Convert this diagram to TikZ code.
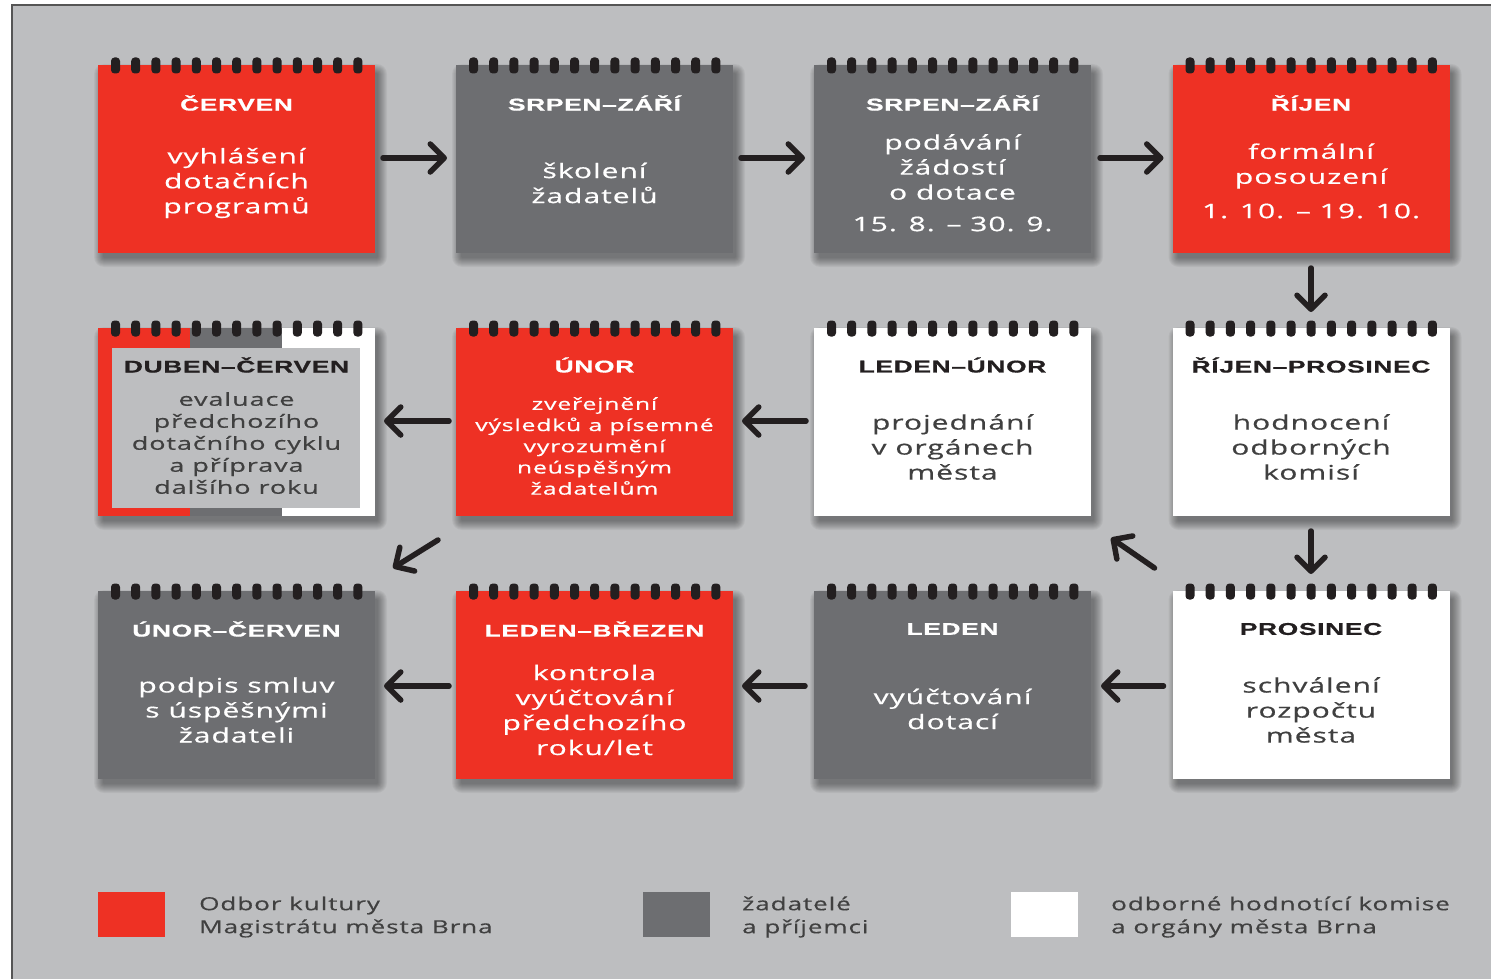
\documentclass[tikz,border=0pt]{standalone}
\usepackage{fontspec}
\setmainfont{Open Sans}
\newfontfamily\bodyf[FakeStretch=1.5,LetterSpace=5,FakeBold=0.6]{Open Sans}
\newfontfamily\legf[FakeStretch=1.45,LetterSpace=5,FakeBold=0.4]{Open Sans}
\newfontfamily\titlef[FakeStretch=1.55,LetterSpace=4,FakeBold=0.8]{Liberation Sans}
\usetikzlibrary{arrows.meta,calc}
\definecolor{cred}{RGB}{238,49,36}
\definecolor{cgrey}{RGB}{109,110,113}
\definecolor{bgc}{RGB}{189,190,192}
\definecolor{ink}{RGB}{35,31,32}
\definecolor{wtext}{RGB}{64,64,64}
\definecolor{framec}{RGB}{85,85,85}
\newcommand\softshadow[1]{%
  \foreach \k in {1,...,10}{%
    \fill[black,opacity=0.045,rounded corners=\k pt]
      ($(#1.north west)+(6-\k,9-\k)$) rectangle ($(#1.south east)+(2+\k,4+\k)$);}}
\newcommand\rings[1]{%
  \foreach \i in {0,...,12}{%
    \fill[ink,rounded corners=3.5pt] ($(#1.north west)+(13+20.2*\i,-7.5)$) rectangle ++(9,16);}}
\tikzset{
  card/.style={minimum width=277pt, minimum height=188pt, inner sep=0pt, outer sep=0pt, draw=none},
  ttl/.style={font=\titlef\bfseries\fontsize{17}{20}\selectfont, inner sep=0pt},
  bodyt/.style={font=\bodyf\fontsize{20}{25}\selectfont, align=center, inner sep=0pt},
  bodys/.style={font=\bodyf\fontsize{18}{22}\selectfont, align=center, inner sep=0pt},
  bodyxs/.style={font=\bodyf\fontsize{16.5}{21.2}\selectfont, align=center, inner sep=0pt},
  legt/.style={font=\legf\fontsize{18}{23}\selectfont, align=left, inner sep=0pt, anchor=west, text=wtext},
  arr/.style={draw=ink, line width=5.5pt, line cap=round, -{Straight Barb[length=14pt,width=28pt,round]}},
  legbox/.style={minimum width=67pt, minimum height=45pt, inner sep=0pt, draw=none}
}
\begin{document}
\begin{tikzpicture}[x=1pt,y=-1pt]
\useasboundingbox (0,0) rectangle (1491,979);
\fill[white] (0,0) rectangle (1491,979);
\fill[bgc] (12,5) rectangle (1491,979);
\draw[framec,line width=1.6pt] (12,979) -- (12,5) -- (1491,5);

% card positions
\path
  (236.5,159) coordinate (p11) (594.5,159) coordinate (p12) (952.5,159) coordinate (p13) (1311,159) coordinate (p14)
  (236.5,422) coordinate (p21) (594.5,422) coordinate (p22) (952.5,422) coordinate (p23) (1311,422) coordinate (p24)
  (236.5,685) coordinate (p31) (594.5,685) coordinate (p32) (952.5,685) coordinate (p33) (1311,685) coordinate (p34);

% shadows
\foreach \n in {11,12,13,14,21,22,23,24,31,32,33,34}{\node[card] (s\n) at (p\n) {};}
\foreach \n in {11,12,13,14,21,22,23,24,31,32,33,34}{\softshadow{s\n}}

% row 1
\node[card,fill=cred] (c11) at (p11) {};
\node[card,fill=cgrey] (c12) at (p12) {};
\node[card,fill=cgrey] (c13) at (p13) {};
\node[card,fill=cred] (c14) at (p14) {};
% row 2
\node[card,fill=white] (c21) at (p21) {};
\fill[cred] (c21.north west) rectangle ($(c21.south west)+(92,0)$);
\fill[cgrey] ($(c21.north west)+(92,0)$) rectangle ($(c21.south west)+(184,0)$);
\fill[bgc] ($(c21.north west)+(14,20)$) rectangle ($(c21.south east)+(-15,-8)$);
\node[card,fill=cred] (c22) at (p22) {};
\node[card,fill=white] (c23) at (p23) {};
\node[card,fill=white] (c24) at (p24) {};
% row 3
\node[card,fill=cgrey] (c31) at (p31) {};
\node[card,fill=cred] (c32) at (p32) {};
\node[card,fill=cgrey] (c33) at (p33) {};
\node[card,fill=white] (c34) at (p34) {};

\foreach \n in {11,12,13,14,21,22,23,24,31,32,33,34}{\rings{c\n}}

% titles
\node[ttl,text=white] (t11) at ($(c11.north)+(0,38)$) {ČERVEN};
\node[ttl,text=white] (t12) at ($(c12.north)+(0,38)$) {SRPEN–ZÁŘÍ};
\node[ttl,text=white] (t13) at ($(c13.north)+(0,38)$) {SRPEN–ZÁŘÍ};
\node[ttl,text=white] (t14) at ($(c14.north)+(0,38)$) {ŘÍJEN};
\node[ttl,text=ink] (t21) at ($(c21.north)+(0,37)$) {DUBEN–ČERVEN};
\node[ttl,text=white] (t22) at ($(c22.north)+(0,37)$) {ÚNOR};
\node[ttl,text=ink] (t23) at ($(c23.north)+(0,37)$) {LEDEN–ÚNOR};
\node[ttl,text=ink] (t24) at ($(c24.north)+(0,37)$) {ŘÍJEN–PROSINEC};
\node[ttl,text=white] (t31) at ($(c31.north)+(0,38)$) {ÚNOR–ČERVEN};
\node[ttl,text=white] (t32) at ($(c32.north)+(0,38)$) {LEDEN–BŘEZEN};
\node[ttl,text=white] (t33) at ($(c33.north)+(0,38)$) {LEDEN};
\node[ttl,text=ink] (t34) at ($(c34.north)+(0,38)$) {PROSINEC};

% bodies
\node[bodyt,text=white] (b11) at ($(c11.north)+(0,118)$) {vyhlášení\\dotačních\\programů};
\node[bodyt,text=white] (b12) at ($(c12.north)+(0,118)$) {školení\\žadatelů};
\node[bodyt,text=white] (b13) at ($(c13.north)+(0,102)$) {podávání\\žádostí\\o dotace};
\node[bodyt,text=white] (d13) at ($(c13.north)+(0,159)$) {15. 8. – 30. 9.};
\node[bodyt,text=white] (b14) at ($(c14.north)+(0,101)$) {formální\\posouzení};
\node[bodyt,text=white] (d14) at ($(c14.north)+(0,146)$) {1. 10. – 19. 10.};
\node[bodys,text=wtext] (b21) at ($(c21.north)+(0,115)$) {evaluace\\předchozího\\dotačního cyklu\\a příprava\\dalšího roku};
\node[bodyxs,text=white] (b22) at ($(c22.north)+(0,118)$) {zveřejnění\\výsledků a písemné\\vyrozumění\\neúspěšným\\žadatelům};
\node[bodyt,text=wtext] (b23) at ($(c23.north)+(0,119)$) {projednání\\v orgánech\\města};
\node[bodyt,text=wtext] (b24) at ($(c24.north)+(0,119)$) {hodnocení\\odborných\\komisí};
\node[bodyt,text=white] (b31) at ($(c31.north)+(0,119)$) {podpis smluv\\s úspěšnými\\žadateli};
\node[bodyt,text=white] (b32) at ($(c32.north)+(0,119)$) {kontrola\\vyúčtování\\předchozího\\roku/let};
\node[bodyt,text=white] (b33) at ($(c33.north)+(0,118)$) {vyúčtování\\dotací};
\node[bodyt,text=wtext] (b34) at ($(c34.north)+(0,119)$) {schválení\\rozpočtu\\města};

% arrows
\draw[arr] ($(c11.east)+(8,-1)$) -- ($(c12.west)+(-9,-1)$);
\draw[arr] ($(c12.east)+(8,-1)$) -- ($(c13.west)+(-9,-1)$);
\draw[arr] ($(c13.east)+(9,-1)$) -- ($(c14.west)+(-9,-1)$);
\draw[arr] ($(c14.south)+(0,15)$) -- ($(c24.north)+(0,-16)$);
\draw[arr] ($(c22.west)+(-7,-1)$) -- ($(c21.east)+(9,-1)$);
\draw[arr] ($(c23.west)+(-8,-1)$) -- ($(c22.east)+(9,-1)$);
\draw[arr] ($(c24.south)+(0,15)$) -- ($(c34.north)+(0,-17)$);
\coordinate (n1s) at ($(c34.north west)+(-18,-23)$);
\coordinate (n1e) at ($(c23.south east)+(20,22)$);
\draw[arr] (n1s) -- (n1e);
\coordinate (n2s) at ($(c22.south west)+(-18,24)$);
\coordinate (n2e) at ($(c21.south east)+(18,52)$);
\draw[arr] (n2s) -- (n2e);
\draw[arr] ($(c34.west)+(-9,1)$) -- ($(c33.east)+(10,1)$);
\draw[arr] ($(c33.west)+(-9,1)$) -- ($(c32.east)+(9,1)$);
\draw[arr] ($(c32.west)+(-7,1)$) -- ($(c31.east)+(9,1)$);

% legend
\node[legbox,fill=cred] (l1) at (131.5,914.5) {};
\node[legbox,fill=cgrey] (l2) at (676.5,914.5) {};
\node[legbox,fill=white] (l3) at (1044.5,914.5) {};
\node[legt] (lt1) at (199,917) {Odbor kultury\\Magistrátu města Brna};
\node[legt] (lt2) at (742,917) {žadatelé\\a příjemci};
\node[legt] (lt3) at (1111,917) {odborné hodnotící komise\\a orgány města Brna};
\end{tikzpicture}
\end{document}
